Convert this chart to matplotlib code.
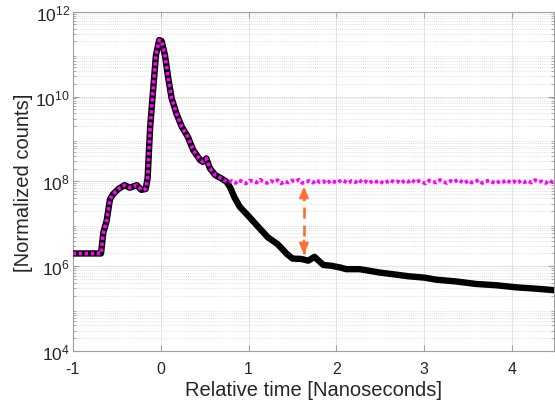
import numpy as np
import matplotlib
matplotlib.use("Agg")
import matplotlib.pyplot as plt

# black curve: time [ns] and log10 of normalized counts
t_black = [-1.0, -0.678, -0.652, -0.614, -0.576, -0.54, -0.48, -0.41, -0.35, -0.27,
           -0.22, -0.17, -0.148, -0.12, -0.084, -0.053, -0.016, 0.011, 0.049, 0.087,
           0.125, 0.18, 0.24, 0.31, 0.37, 0.45, 0.48, 0.52, 0.56, 0.62,
           0.69, 0.75, 0.79, 0.84, 0.90, 1.0, 1.1, 1.22, 1.33, 1.44,
           1.50, 1.60, 1.68, 1.75, 1.85, 1.94, 2.04, 2.11, 2.26, 2.38,
           2.49, 2.68, 2.83, 3.0, 3.14, 3.36, 3.59, 3.82, 4.05, 4.27, 4.5]
log_black = [6.30, 6.30, 6.79, 7.07, 7.58, 7.70, 7.82, 7.91, 7.85, 7.91,
             7.80, 7.82, 8.07, 9.25, 10.19, 10.98, 11.33, 11.31, 10.98, 10.43,
             9.96, 9.60, 9.29, 9.05, 8.74, 8.50, 8.46, 8.54, 8.31, 8.15,
             8.07, 7.99, 7.86, 7.62, 7.40, 7.18, 6.95, 6.68, 6.52, 6.28,
             6.18, 6.17, 6.13, 6.22, 6.03, 6.01, 5.97, 5.93, 5.93, 5.89,
             5.85, 5.80, 5.76, 5.73, 5.68, 5.64, 5.58, 5.55, 5.50, 5.47, 5.43]

# magenta curve follows black up to here, then sits on a noisy floor near 1e8
split_t = 0.69
floor_start, floor_end = 0.73, 4.5
log_floor = [8.02, 7.98, 8.01, 7.96, 8.03, 7.99, 7.95, 8.02, 8.00, 7.97, 8.04, 7.99,
             7.96, 8.01, 7.98, 8.03, 7.95, 8.00, 7.97, 8.02, 7.99, 8.04, 7.96, 7.99,
             8.01, 7.97, 8.03, 7.98, 8.00, 7.95, 8.02, 7.99, 7.97, 8.03, 8.00, 7.96,
             8.01, 7.98, 8.04, 7.97, 8.00, 7.96, 8.02, 7.99, 8.01, 7.95, 7.99, 8.03,
             7.98, 8.00, 7.96, 8.02, 7.99, 8.04, 7.97, 8.01, 7.98, 7.95, 8.02, 8.00,
             7.97, 8.03, 7.99, 7.96, 8.01, 7.98, 8.04, 8.00, 7.96, 8.02, 7.97, 7.99,
             8.03, 7.96, 8.00, 8.02, 7.98, 7.95, 8.01, 7.99, 8.03, 7.97, 8.00, 7.96,
             8.02, 7.98, 8.01, 7.97, 8.03, 7.99, 8.00, 7.96, 8.02, 7.98, 8.01]

# orange double arrow marking the gap
arrow_t = 1.63
arrow_top = 7.5e7
arrow_bottom = 1.9e6

plt.rcParams["font.family"] = ["Liberation Sans", "DejaVu Sans"]
plt.rcParams["axes.unicode_minus"] = False

t_black = np.array(t_black)
y_black = 10 ** np.array(log_black)
early = t_black <= split_t
t_floor = np.linspace(floor_start, floor_end, len(log_floor))
t_mag = np.concatenate([t_black[early], t_floor])
y_mag = np.concatenate([y_black[early], 10 ** np.array(log_floor)])

fig = plt.figure(figsize=(5.55, 4.06), dpi=100)
ax = fig.add_axes([0.131, 0.133, 0.8665, 0.8357])

ax.plot(t_black, y_black, color="black", lw=4.6, solid_joinstyle="round",
        solid_capstyle="butt", zorder=3)
ax.plot(t_mag, y_mag, color="#ff00ff", lw=2.7, linestyle=(0, (0.9, 0.7)), zorder=4)

orange = "#ff6f31"
ax.plot([arrow_t, arrow_t], [arrow_bottom, arrow_top], color=orange, lw=1.9,
        linestyle=(0, (4.2, 2.6)), zorder=5)
for y_tip, off in [(arrow_top, -10), (arrow_bottom, 10)]:
    ax.annotate("", xy=(arrow_t, y_tip), xytext=(0, off), textcoords="offset points",
                arrowprops=dict(arrowstyle="-|>,head_length=0.65,head_width=0.28",
                                color=orange, lw=1.5, shrinkA=0, shrinkB=0), zorder=6)

ax.set_yscale("log")
ax.set_xlim(-1, 4.47)
ax.set_ylim(1e4, 1e12)
ax.set_xticks([-1, 0, 1, 2, 3, 4])
ax.set_yticks([1e4, 1e6, 1e8, 1e10, 1e12])
ax.yaxis.set_minor_locator(matplotlib.ticker.LogLocator(base=10, subs=np.arange(2, 10), numticks=50))
ax.yaxis.set_minor_formatter(matplotlib.ticker.NullFormatter())

ax.grid(which="major", color="#e3e3e3", lw=0.7)
ax.grid(which="minor", axis="y", color="#d8d8d8", lw=0.6, linestyle=(0, (1, 1.5)))
ax.set_axisbelow(True)

for s in ax.spines.values():
    s.set_color("#a0a0a0")
    s.set_linewidth(0.8)
ax.tick_params(which="both", direction="in", top=True, right=True, colors="#a0a0a0",
               labelcolor="#262626")
ax.tick_params(which="major", length=4, width=0.8)
ax.tick_params(which="minor", length=2, width=0.6)
ax.tick_params(axis="x", pad=7, labelsize=11.5)
ax.tick_params(axis="y", pad=2, labelsize=12.5)

ax.set_xlabel("Relative time [Nanoseconds]", fontsize=14.5, color="#262626", labelpad=3)
ax.set_ylabel("[Normalized counts]", fontsize=14.5, color="#262626")
ax.yaxis.set_label_coords(-0.083, 0.5)

fig.savefig("out.png", dpi=100)
